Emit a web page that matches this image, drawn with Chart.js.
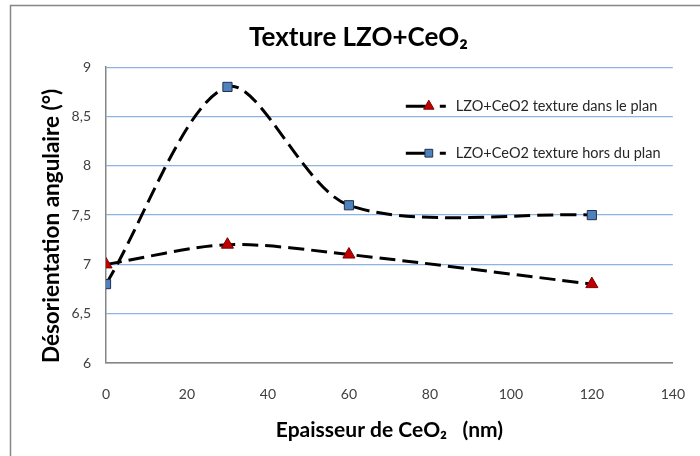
<!DOCTYPE html>
<html>
<head>
<meta charset="utf-8">
<script src="https://cdn.jsdelivr.net/npm/chart.js@4"></script>
<style>
  html, body { margin: 0; padding: 0; background: #fff; }
</style>
</head>
<body>
<canvas id="texture" width="700" height="456"></canvas>
<script>
const epaisseur = [0, 30, 60, 120];
const dansLePlan = [7, 7.2, 7.1, 6.8];
const horsDuPlan = [6.8, 8.8, 7.6, 7.5];
const xTicks = [0, 20, 40, 60, 80, 100, 120, 140];
const yTicks = [6, 6.5, 7, 7.5, 8, 8.5, 9];

const font = 'Lato, "Open Sans", sans-serif';
const axisGrey = '#868686';
const gridBlue = '#8db3e2';

const toPoints = (ys) => epaisseur.map((x, i) => ({ x: x, y: ys[i] }));

// grey frame around the whole chart
const framePlugin = {
    id: 'frame',
    beforeDraw(chart) {
        const ctx = chart.ctx;
        ctx.save();
        ctx.fillStyle = '#fff';
        ctx.fillRect(0, 0, chart.width, chart.height);
        ctx.strokeStyle = axisGrey;
        ctx.lineWidth = 1.5;
        ctx.strokeRect(10.5, 5.5, chart.width, chart.height);
        ctx.restore();
    }
};

// legend drawn inside the plot area, Excel style: line, marker, dash, text
const insideLegend = {
    id: 'insideLegend',
    afterDatasetsDraw(chart) {
        const ctx = chart.ctx;
        const area = chart.chartArea;
        const textX = area.right - 217;
        const rows = [area.top + 39, area.top + 86];
        ctx.save();
        chart.data.datasets.forEach((ds, i) => {
            const y = rows[i];
            ctx.strokeStyle = '#000';
            ctx.lineWidth = 3;
            ctx.beginPath();
            ctx.moveTo(textX - 50, y);
            ctx.lineTo(textX - 30, y);
            ctx.moveTo(textX - 16, y);
            ctx.lineTo(textX - 10, y);
            ctx.stroke();
            ctx.fillStyle = ds.pointBackgroundColor;
            ctx.strokeStyle = ds.pointBorderColor;
            ctx.lineWidth = 1;
            Chart.helpers.drawPoint(ctx, {
                pointStyle: ds.pointStyle,
                radius: ds.pointRadius - 1,
                borderWidth: 1
            }, textX - 27, y);
            ctx.fillStyle = '#262626';
            ctx.font = '14.5px ' + font;
            ctx.textBaseline = 'middle';
            ctx.textAlign = 'left';
            ctx.fillText(ds.label, textX, y);
        });
        ctx.restore();
    }
};

const lineStyle = {
    showLine: true,
    borderColor: '#000',
    borderWidth: 3,
    borderDash: [16, 7],
    tension: 0.3,
    pointBorderWidth: 1
};

new Chart(document.getElementById('texture'), {
    type: 'scatter',
    data: {
        datasets: [
            {
                ...lineStyle,
                label: 'LZO+CeO2 texture dans le plan',
                data: toPoints(dansLePlan),
                pointStyle: 'triangle',
                pointRadius: 7,
                pointBackgroundColor: '#c00000',
                pointBorderColor: '#7f0000'
            },
            {
                ...lineStyle,
                label: 'LZO+CeO2 texture hors du plan',
                data: toPoints(horsDuPlan),
                pointStyle: 'rect',
                pointRadius: 6.5,
                pointBackgroundColor: '#4f81bd',
                pointBorderColor: '#1f2f4f'
            }
        ]
    },
    options: {
        responsive: false,
        animation: false,
        events: [],
        layout: { padding: { left: 38, right: 21, top: 0, bottom: 0 } },
        plugins: {
            legend: { display: false },
            tooltip: { enabled: false },
            title: {
                display: true,
                text: 'Texture LZO+CeO₂',
                color: '#000',
                font: { family: font, size: 26, weight: 'bold', lineHeight: 1.2 },
                padding: { top: 22, bottom: 14 }
            }
        },
        scales: {
            x: {
                type: 'linear',
                min: 0,
                max: 140,
                afterBuildTicks: (scale) => { scale.ticks = xTicks.map(v => ({ value: v })); },
                afterFit: (scale) => { scale.height = 93; },
                grid: { display: false },
                border: { display: true, color: axisGrey, width: 1.5 },
                ticks: {
                    color: '#404040',
                    font: { family: font, size: 14 },
                    padding: 15
                },
                title: {
                    display: true,
                    text: 'Epaisseur de CeO₂   (nm)',
                    color: '#000',
                    font: { family: font, size: 21, weight: 'bold' },
                    padding: { top: 10, bottom: 13 }
                }
            },
            y: {
                min: 6,
                max: 9,
                afterBuildTicks: (scale) => { scale.ticks = yTicks.map(v => ({ value: v })); },
                afterFit: (scale) => { scale.width = 68; },
                grid: {
                    color: (c) => c.tick && c.tick.value === 6 ? axisGrey : gridBlue,
                    lineWidth: 1.3,
                    drawTicks: false
                },
                border: { display: true, color: axisGrey, width: 1.5 },
                ticks: {
                    color: '#404040',
                    font: { family: font, size: 14 },
                    padding: 15,
                    callback: (v) => String(v).replace('.', ',')
                },
                title: {
                    display: true,
                    align: 'start',
                    text: 'Désorientation angulaire (°)',
                    color: '#000',
                    font: { family: font, size: 22.5, weight: 'bold' },
                    padding: { top: 0, bottom: 4 }
                }
            }
        }
    },
    plugins: [framePlugin, insideLegend]
});
</script>
</body>
</html>
